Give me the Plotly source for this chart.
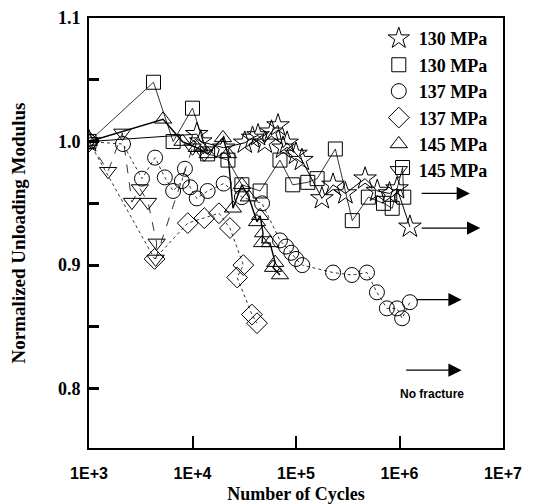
import plotly.graph_objects as go

# normalized unloading modulus vs number of cycles
star_130_x = [1000, 11000, 12000, 20000, 32000, 38000, 43000, 50000, 58000, 67000, 75000, 82000,
              100000, 114000, 178000, 228000, 300000, 465000, 610000, 800000, 946000, 1260000]
star_130_y = [1.0, 1.006, 1.0, 0.995, 0.999, 1.003, 1.005, 0.999, 1.008, 1.013, 0.995, 0.999,
              0.99, 0.985, 0.954, 0.965, 0.958, 0.97, 0.96, 0.958, 0.962, 0.931]

square_130_x = [1000, 4200, 6500, 10000, 14000, 22000, 30000, 45000, 70000, 93000, 130000, 160000,
                240000, 350000, 500000, 700000, 850000, 1070000, 1100000]
square_130_y = [1.0, 1.048, 1.0, 1.027, 0.99, 0.985, 0.965, 0.96, 0.985, 0.965, 0.967, 0.97,
                0.994, 0.936, 0.955, 0.95, 0.946, 0.979, 0.955]

circle_137_x = [1000, 2130, 3250, 4350, 5400, 6500, 7900, 8450, 9500, 11000, 14000, 20000, 30000,
                47000, 70000, 80000, 90000, 100000, 115000, 228000, 347000, 485000, 605000,
                755000, 945000, 1060000, 1260000]
circle_137_y = [1.0, 0.998, 0.97, 0.987, 0.971, 0.96, 0.968, 0.978, 0.963, 0.954, 0.96, 0.966, 0.955,
                0.95, 0.92, 0.915, 0.91, 0.905, 0.9, 0.894, 0.892, 0.894, 0.878,
                0.865, 0.865, 0.857, 0.87]

diamond_137_x = [1000, 4300, 9000, 13000, 18000, 23000, 31000, 27000, 37500, 42000]
diamond_137_y = [1.0, 0.905, 0.934, 0.938, 0.942, 0.93, 0.9, 0.89, 0.86, 0.853]

tri_up_145_x = [1000, 5200, 8000, 11000, 14000, 19700, 22000, 24600, 30000, 35000, 42000, 45000,
                48000, 47000, 56000, 63000, 60000, 70000]
tri_up_145_y = [1.0, 1.018, 1.0, 0.995, 0.99, 1.003, 0.99, 0.946, 0.965, 0.955, 0.935, 0.94,
                0.926, 0.918, 0.918, 0.902, 0.898, 0.892]

tri_dn_145_x = [1000, 1530, 2100, 2600, 3100, 3720, 4500, 4400, 10000, 13000]
tri_dn_145_y = [1.0, 0.976, 1.007, 0.951, 0.962, 0.951, 0.918, 0.905, 0.995, 0.99]

series = [
    ("130 MPa", star_130_x, star_130_y, "star-open", 17, "solid", 1.0),
    ("130 MPa", square_130_x, square_130_y, "square-open", 14, "solid", 0.8),
    ("137 MPa", circle_137_x, circle_137_y, "circle-open", 15, "dot", 0.8),
    ("137 MPa", diamond_137_x, diamond_137_y, "diamond-open", 16, "dot", 0.8),
    ("145 MPa", tri_up_145_x, tri_up_145_y, "triangle-up-open", 15, "solid", 1.4),
    ("145 MPa", tri_dn_145_x, tri_dn_145_y, "triangle-down-open", 15, "dash", 0.8),
]

# "no fracture" arrows (log10 cycles start/end, modulus)
arrow_x0 = [6.2, 6.2, 6.15, 6.05]
arrow_x1 = [6.68, 6.78, 6.6, 6.6]
arrow_y = [0.958, 0.930, 0.872, 0.815]

fig = go.Figure()

for name, xs, ys, sym, sz, dash, lw in series:
    fig.add_trace(go.Scatter(
        x=xs, y=ys, mode="lines", showlegend=False,
        line=dict(color="black", width=lw, dash=dash)))
for name, xs, ys, sym, sz, dash, lw in series:
    fig.add_trace(go.Scatter(
        x=xs, y=ys, mode="markers", name="<b>" + name + "</b>",
        marker=dict(symbol=sym, size=sz, color="black", line=dict(width=1, color="black"))))

for x0, x1, y in zip(arrow_x0, arrow_x1, arrow_y):
    fig.add_annotation(x=x1, y=y, ax=x0, ay=y, xref="x", yref="y", axref="x", ayref="y",
                       text="", showarrow=True, arrowhead=2, arrowsize=2.2, arrowwidth=1.2,
                       arrowcolor="black")

fig.add_annotation(x=6.31, y=0.796, xref="x", yref="y", text="<b>No fracture</b>",
                   showarrow=False, font=dict(family="Liberation Sans, Arial", size=12, color="black"))

serif = "Liberation Serif, Times New Roman, serif"

# page body has an 8px margin, so the figure is 8px smaller and shifted
fig.update_layout(
    width=529, height=496,
    margin=dict(l=81, r=34, t=10, b=56),
    plot_bgcolor="white", paper_bgcolor="white",
    showlegend=True,
    legend=dict(x=0.70, y=0.995, xanchor="left", yanchor="top", bgcolor="rgba(0,0,0,0)",
                font=dict(family=serif, size=18, color="black"), tracegroupgap=0,
                itemwidth=30),
    xaxis=dict(type="log", range=[3, 7], automargin=False,
               tickvals=[1e3, 1e4, 1e5, 1e6, 1e7],
               ticktext=["<b>1E+3</b>", "<b>1E+4</b>", "<b>1E+5</b>", "<b>1E+6</b>", "<b>1E+7</b>"],
               ticks="inside", ticklen=12, tickwidth=2, tickcolor="black",
               ticklabelstandoff=10,
               showline=True, linewidth=2, linecolor="black", mirror=True,
               showgrid=False, zeroline=False,
               tickfont=dict(family="Liberation Sans, Arial", size=16, color="black"),
               title=dict(text="<b>Number of Cycles</b>", standoff=10,
                          font=dict(family=serif, size=18, color="black"))),
    yaxis=dict(range=[0.752, 1.1], automargin=False,
               tickvals=[0.8, 0.85, 0.9, 0.95, 1.0, 1.05, 1.1],
               ticktext=["<b>0.8</b>", "", "<b>0.9</b>", "", "<b>1.0</b>", "", "<b>1.1</b>"],
               ticks="inside", ticklen=10, tickwidth=3, tickcolor="black",
               ticklabelstandoff=3,
               showline=True, linewidth=2, linecolor="black", mirror=True,
               showgrid=False, zeroline=False,
               tickfont=dict(family=serif, size=18, color="black"),
               title=dict(text="<b>Normalized Unloading Modulus</b>", standoff=30,
                          font=dict(family=serif, size=19, color="black"))),
)

fig.write_html("out.html")
